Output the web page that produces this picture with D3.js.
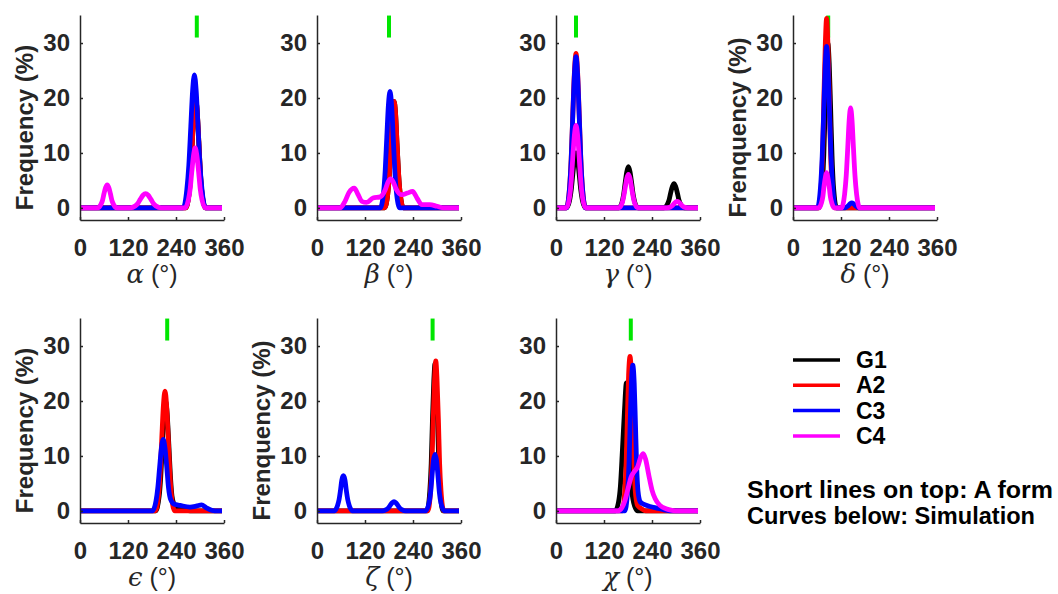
<!DOCTYPE html>
<html lang="en">
<head>
<meta charset="UTF-8">
<title>Torsion angle distributions</title>
<script src="https://d3js.org/d3.v7.min.js"></script>
<style>
  body { margin: 0; background: #fff; }
  svg { display: block; }
  .tick text { font-family: "Liberation Sans", Arial, sans-serif; font-weight: bold; font-size: 24px; fill: #262626; }
  .axis path, .axis line { stroke: #262626; stroke-width: 1.5; }
  .ytitle { font-family: "Liberation Sans", Arial, sans-serif; font-weight: bold; font-size: 24px; fill: #262626; }
  .xtitle { font-size: 25px; fill: #262626; }
  .note { font-family: "Liberation Sans", Arial, sans-serif; font-weight: bold; font-size: 23px; fill: #000; }
</style>
</head>
<body>
<svg id="chart" width="1058" height="594"></svg>
<script>
// ---- data ----
var degTicks = [0, 120, 240, 360];
var freqTicks = [0, 10, 20, 30];
var seriesNames = ['G1', 'A2', 'C3', 'C4'];
var angleSymbols = ['α', 'β', 'γ', 'δ', 'ϵ', 'ζ', 'χ'];
var yTitles = ['Frequency (%)', '', '', 'Frenquency (%)', 'Frequency (%)', 'Frenquency (%)', ''];
var aFormAngles = [292, 180, 50, 88, 218, 289, 187];
var notes = ['Short lines on top: A form', 'Curves below: Simulation'];

// [angle (deg), frequency (%)]
var alpha = {
  G1: [[0,0],[264,0],[273,2.7],[277,6.4],[281,12.2],[285,17.6],[289,20],[293,17.6],[297,12.2],[301,6.4],[305,2.7],[314,0],[355,0]],
  A2: [[0,0],[264,0],[273,2.7],[277,6.4],[281,12.2],[285,17.6],[289,20],[293,17.6],[297,12.2],[301,6.4],[305,2.7],[314,0],[355,0]],
  C3: [[0,0],[258,0],[267,3.3],[272,7.7],[277,14.8],[281.5,21.3],[286,24.2],[290.5,21.3],[295,14.8],[300,7.7],[305,3.3],[314,0],[355,0]],
  C4: [[0,0],[44,0],[52,0.6],[56,1.3],[60,2.6],[64,3.7],[68,4.2],[72,3.7],[76,2.6],[80,1.3],[84,0.6],[92,0],
       [125,0],[138,0.35],[144.5,0.8],[151,1.6],[157.5,2.3],[164,2.6],[170.5,2.3],[177,1.6],[183.5,0.8],[190,0.35],[203,0],
       [262,0],[271,1.5],[275.5,3.5],[279.5,6.6],[284,9.6],[288,10.9],[292,9.6],[296.5,6.6],[300.5,3.5],[305,1.5],[314,0],[355,0]]
};
var beta = {
  G1: [[0,0],[169,0],[177,2.6],[181,6.2],[185,11.8],[188.5,17.1],[192.5,19.4],[196.5,17.1],[200,11.8],[204,6.2],[208,2.6],[216,0],[355,0]],
  A2: [[0,0],[169,0],[177,2.6],[181,6.2],[185,11.8],[188.5,17.1],[192.5,19.4],[196.5,17.1],[200,11.8],[204,6.2],[208,2.6],[216,0],[355,0]],
  C3: [[0,0],[158,0],[166.5,2.9],[170.5,6.8],[174.5,12.9],[178.5,18.7],[182.5,21.2],[186.5,18.7],[190.5,12.9],[194.5,6.8],[198.5,2.9],[207,0],[355,0]],
  C4: [[0,0],[57,0],[70,1.2],[80,2.8],[93,3.6],[103,2.4],[112,1.2],[124,1.0],[140,1.8],[158,2.0],[170,3.2],[178,4.8],[184,5.3],[190,4.8],[198,3.4],[210,2.4],[226,2.7],[239,3.0],[250,1.8],[262,0.6],[282,0.6],[300,0.3],[318,0],[355,0]]
};
var gamma = {
  G1: [[0,0],[26,0],[34,1.35],[38,3.2],[42,6.1],[46,8.8],[50,10],[54,8.8],[58,6.1],[62,3.2],[66,1.35],[74,0],
       [157,0],[165,1.0],[169,2.4],[173,4.6],[177,6.6],[181,7.5],[185,6.6],[189,4.6],[193,2.4],[197,1.0],[205,0],
       [269,0],[278,0.6],[282.5,1.4],[286.5,2.7],[291,3.9],[295,4.4],[299,3.9],[303.5,2.7],[307.5,1.4],[312,0.6],[321,0],[355,0]],
  A2: [[0,0],[26,0],[34,3.8],[38,9.0],[42,17.1],[46,24.7],[50,28.1],[54,24.7],[58,17.1],[62,9.0],[66,3.8],[74,0],[355,0]],
  C3: [[0,0],[26,0],[34,3.7],[38,8.8],[42,16.8],[46,24.2],[50,27.5],[54,24.2],[58,16.8],[62,8.8],[66,3.7],[74,0],[355,0]],
  C4: [[0,0],[26,0],[34,2.0],[38,4.8],[42,9.2],[46,13.2],[50,15],[54,13.2],[58,9.2],[62,4.8],[66,2.0],[74,0],
       [157,0],[165,0.8],[169,2.0],[173,3.7],[177,5.4],[181,6.1],[185,5.4],[189,3.7],[193,2.0],[197,0.8],[205,0],
       [277,0],[286,0.16],[290.5,0.38],[294.5,0.73],[299,1.05],[303,1.2],[307,1.05],[311.5,0.73],[315.5,0.38],[320,0.16],[329,0],[355,0]]
};
var delta = {
  G1: [[0,0],[65,0],[73,4.1],[77,9.6],[80.5,18.3],[84,26.4],[87,30],[90.5,26.4],[94,18.3],[97.5,9.6],[101,4.1],[109,0],[355,0]],
  A2: [[0,0],[64,0],[71,4.7],[74.5,11.0],[77.5,21.0],[81,30.4],[84,34.5],[87,30.4],[90.5,21.0],[93.5,11.0],[97,4.7],[104,0],[355,0]],
  C3: [[0,0],[61,0],[69,4.0],[73,9.4],[77,17.9],[80.5,25.9],[84,29.4],[87.5,25.9],[91,17.9],[95,9.4],[99,4.0],[107,0],
       [126,0],[133,0.12],[136.5,0.3],[140,0.55],[143.5,0.8],[147,0.9],[150.5,0.8],[154,0.55],[157.5,0.3],[161,0.12],[168,0],[355,0]],
  C4: [[0,0],[64,0],[71,0.9],[74.5,2.0],[77.5,3.9],[81,5.6],[84,6.4],[87,5.6],[90.5,3.9],[93.5,2.0],[97,0.9],[104,0],
       [121,0],[129,2.5],[133,5.8],[137,11.1],[140.5,16.0],[144,18.2],[147.5,16.0],[151,11.1],[155,5.8],[159,2.5],[167,0],[355,0]]
};
var epsilon = {
  G1: [[0,0],[189,0],[198,2.7],[202,6.4],[206,12.2],[210,17.6],[214,20],[218,17.6],[222,12.2],[226,6.4],[230,2.7],[237,1.0],[248,0.5],[262,0.2],[275,0],[355,0]],
  A2: [[0,0],[188,0],[196.5,2.9],[200.5,7.0],[204.5,13.3],[208.5,19.2],[212.5,21.8],[216.5,19.2],[220.5,13.3],[224.5,7.0],[228.5,2.9],[237,0],[355,0]],
  C3: [[0,0],[181,0],[190,1.8],[194.5,4.2],[199,7.9],[203.5,11.4],[208,13],[212.5,11.4],[217,7.9],[221,4.4],[227,2.0],[236,1.2],[250,1.0],[275,0.7],[292,0.9],[304,1.1],[315,0.6],[330,0.1],[345,0],[355,0]]
};
var zeta = {
  G1: [[0,0],[275,0],[282,3.6],[285.5,8.6],[288.5,16.3],[292,23.6],[295,26.8],[298,23.6],[301.5,16.3],[304.5,8.6],[308,3.6],[315,0],[355,0]],
  A2: [[0,0],[277,0],[284,3.7],[287.5,8.7],[290.5,16.7],[294,24.0],[297,27.3],[300,24.0],[303.5,16.7],[306.5,8.7],[310,3.7],[317,0],[355,0]],
  C3: [[0,0],[43,0],[51,0.9],[55,2.0],[59,3.9],[62,5.6],[66,6.4],[70,5.6],[73,3.9],[77,2.0],[81,0.9],[89,0],
       [163,0],[173,0.23],[178,0.5],[183,1.0],[188,1.5],[192.5,1.7],[197,1.5],[202,1.0],[207,0.5],[212,0.23],[222,0],
       [271,0],[280,1.4],[284,3.3],[287.5,6.3],[291,9.1],[295,10.3],[299,9.1],[302.5,6.3],[306,3.3],[310,1.4],[319,0],[355,0]]
};
var chi = {
  G1: [[0,0],[148,0],[156,1.5],[161,4.5],[166,11],[171,18],[176,23.3],[180,20],[184,12],[188,5],[194,1.5],[204,0],[355,0]],
  A2: [[0,0],[166,0],[172,3.8],[175.5,9.0],[178.5,17.1],[181.5,24.7],[185,28.1],[188.5,24.7],[191.5,17.1],[194.5,9.0],[198,3.8],[204,1.0],[214,0.4],[224,0],[355,0]],
  C3: [[0,0],[172,0],[179,3.6],[182.5,8.5],[185.5,16.2],[188.5,23.3],[192,26.5],[195.5,23.3],[198.5,16.2],[201.5,8.5],[205,3.6],[211,1.6],[220,1.2],[235,0.8],[252,0.5],[270,0.2],[285,0],[355,0]],
  C4: [[0,0],[155,0],[165,0.6],[172,1.8],[180,4.0],[188,6.2],[196,7.2],[204,8.0],[212,9.8],[218,10.4],[224,9.4],[232,6.5],[240,3.8],[248,2.2],[260,1.0],[275,0.4],[290,0.1],[305,0],[355,0]]
};
var panels = [alpha, beta, gamma, delta, epsilon, zeta, chi];

// ---- styling / layout ----
var colors = { G1: '#000000', A2: '#ff0000', C3: '#0000ff', C4: '#ff00ff' };
var colX = [80, 317, 556, 793];
var rowY = [15, 318];
var pw = 144, ph = 205;

var svg = d3.select('#chart');
svg.append('rect').attr('width', 1058).attr('height', 594).attr('fill', '#fff');

var x = d3.scaleLinear().domain([0, 360]).range([0, pw]);
var y = d3.scaleLinear().domain([-2.2, 35.1]).range([ph, 0]);
var line = d3.line().x(d => x(d[0])).y(d => y(d[1])).curve(d3.curveMonotoneX);

panels.forEach(function(p, i){
  var col = i < 4 ? i : i - 4;
  var row = i < 4 ? 0 : 1;
  var g = svg.append('g').attr('transform', 'translate(' + colX[col] + ',' + rowY[row] + ')');

  // A-form marker (short green line)
  g.append('line')
    .attr('x1', x(aFormAngles[i])).attr('x2', x(aFormAngles[i]))
    .attr('y1', y(31)).attr('y2', y(35))
    .attr('stroke', '#00e600').attr('stroke-width', 4);

  seriesNames.forEach(function(s){
    if (!p[s]) return;
    g.append('path')
      .datum(p[s])
      .attr('d', line)
      .attr('fill', 'none')
      .attr('stroke', colors[s])
      .attr('stroke-width', 4.8)
      .attr('stroke-linejoin', 'round');
  });

  g.append('g').attr('class', 'axis')
    .attr('transform', 'translate(0,' + ph + ')')
    .call(d3.axisBottom(x).tickValues(degTicks).tickSizeInner(-3).tickSizeOuter(0).tickPadding(19));
  g.append('g').attr('class', 'axis')
    .call(d3.axisLeft(y).tickValues(freqTicks).tickSizeInner(-3).tickSizeOuter(0).tickPadding(10));

  if (yTitles[i]) {
    g.append('text').attr('class', 'ytitle')
      .attr('transform', 'translate(-56,' + (ph / 2 + 10) + ') rotate(-90)')
      .attr('text-anchor', 'middle')
      .attr('dominant-baseline', 'central')
      .text(yTitles[i]);
  }

  var xt = g.append('text').attr('class', 'xtitle')
    .attr('x', pw / 2).attr('y', ph + 63)
    .attr('text-anchor', 'middle');
  xt.append('tspan')
    .style('font-family', '"DejaVu Serif", "Liberation Serif", serif')
    .style('font-style', 'italic')
    .style('font-size', '26px')
    .text(angleSymbols[i]);
  xt.append('tspan')
    .style('font-family', '"Liberation Sans", Arial, sans-serif')
    .text(' (°)');
});

// legend
var leg = svg.append('g').attr('transform', 'translate(793,360)');
seriesNames.forEach(function(s, k){
  leg.append('line')
    .attr('x1', 0).attr('x2', 47)
    .attr('y1', k * 25.3).attr('y2', k * 25.3)
    .attr('stroke', colors[s]).attr('stroke-width', 3.5);
  leg.append('text').attr('class', 'note')
    .attr('x', 63).attr('y', k * 25.3 + 8)
    .text(s);
});

notes.forEach(function(t, k){
  svg.append('text').attr('class', 'note')
    .attr('x', 747).attr('y', 498 + k * 26)
    .attr('textLength', k === 0 ? 306 : 288)
    .attr('lengthAdjust', 'spacingAndGlyphs')
    .text(t);
});
</script>
</body>
</html>
